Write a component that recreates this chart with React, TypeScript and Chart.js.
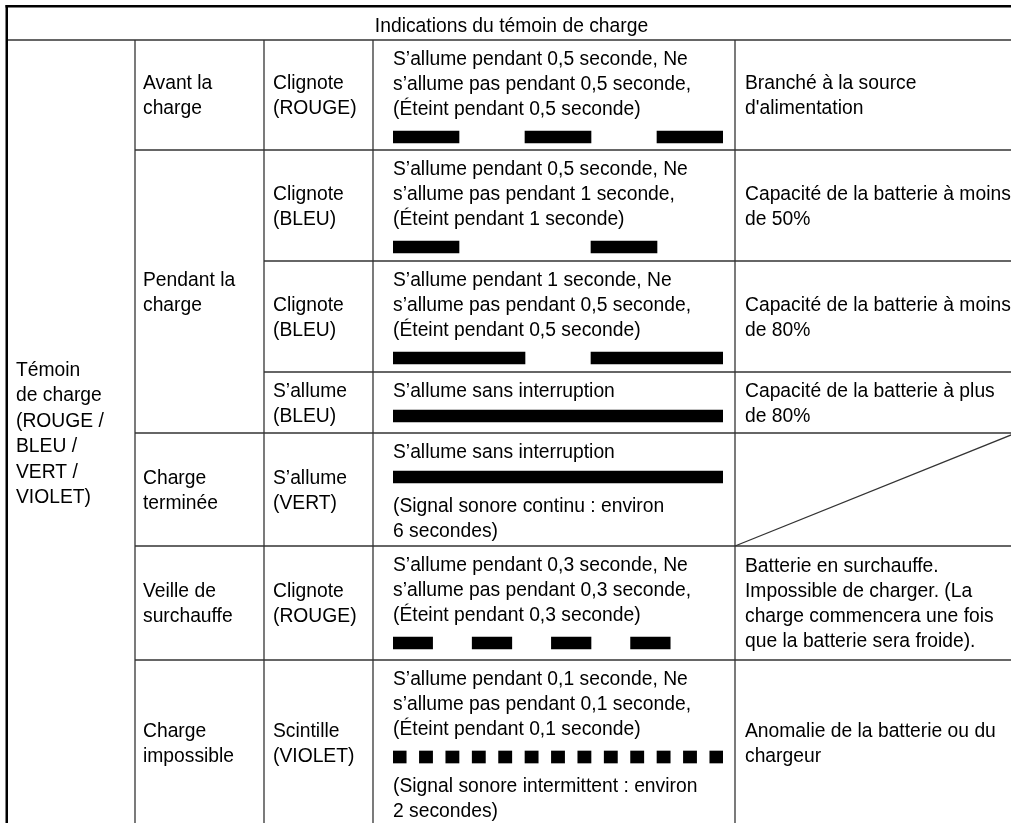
import React, { useEffect, useRef } from 'react';
import { Chart, registerables } from 'chart.js';

Chart.register(...registerables);

// ---------------- data ----------------
const HEADER_TITLE = 'Indications du témoin de charge';

const INDICATOR_LINES = ['Témoin', 'de charge', '(ROUGE /', 'BLEU /', 'VERT /', 'VIOLET)'];

const STATE_LABELS = [
  ['Avant la', 'charge'],
  ['Pendant la', 'charge'],
  ['Charge', 'terminée'],
  ['Veille de', 'surchauffe'],
  ['Charge', 'impossible'],
];
const STATE_ROW_SPANS = [1, 3, 1, 1, 1];

const LAMP_LABELS = [
  ['Clignote', '(ROUGE)'],
  ['Clignote', '(BLEU)'],
  ['Clignote', '(BLEU)'],
  ['S\u2019allume', '(BLEU)'],
  ['S\u2019allume', '(VERT)'],
  ['Clignote', '(ROUGE)'],
  ['Scintille', '(VIOLET)'],
];

const PATTERN_LINES = [
  ['S\u2019allume pendant 0,5 seconde, Ne', 's\u2019allume pas pendant 0,5 seconde,', '(Éteint pendant 0,5 seconde)'],
  ['S\u2019allume pendant 0,5 seconde, Ne', 's\u2019allume pas pendant 1 seconde,', '(Éteint pendant 1 seconde)'],
  ['S\u2019allume pendant 1 seconde, Ne', 's\u2019allume pas pendant 0,5 seconde,', '(Éteint pendant 0,5 seconde)'],
  ['S\u2019allume sans interruption'],
  ['S\u2019allume sans interruption'],
  ['S\u2019allume pendant 0,3 seconde, Ne', 's\u2019allume pas pendant 0,3 seconde,', '(Éteint pendant 0,3 seconde)'],
  ['S\u2019allume pendant 0,1 seconde, Ne', 's\u2019allume pas pendant 0,1 seconde,', '(Éteint pendant 0,1 seconde)'],
];

// lamp "on" intervals, in seconds
const ON_INTERVALS_ROW1 = [[0, 0.5], [1, 1.5], [2, 2.5]];
const ON_INTERVALS_ROW2 = [[0, 0.5], [1.5, 2]];
const ON_INTERVALS_ROW3 = [[0, 1], [1.5, 2.5]];
const ON_INTERVALS_ROW4 = [[0, 2.5]];
const ON_INTERVALS_ROW5 = [[0, 2.5]];
const ON_INTERVALS_ROW6 = [[0, 0.3], [0.6, 0.9], [1.2, 1.5], [1.8, 2.1]];
const ON_INTERVALS_ROW7 = [
  [0, 0.1], [0.2, 0.3], [0.4, 0.5], [0.6, 0.7], [0.8, 0.9], [1.0, 1.1], [1.2, 1.3],
  [1.4, 1.5], [1.6, 1.7], [1.8, 1.9], [2.0, 2.1], [2.2, 2.3], [2.4, 2.5],
];
const ON_INTERVALS = [
  ON_INTERVALS_ROW1, ON_INTERVALS_ROW2, ON_INTERVALS_ROW3, ON_INTERVALS_ROW4,
  ON_INTERVALS_ROW5, ON_INTERVALS_ROW6, ON_INTERVALS_ROW7,
];
const TIME_MIN = 0;
const TIME_MAX = 2.5;

const BEEP_LINES = [
  [], [], [], [],
  ['(Signal sonore continu : environ', '6 secondes)'],
  [],
  ['(Signal sonore intermittent : environ', '2 secondes)'],
];

const MEANING_LINES = [
  ['Branché à la source', "d'alimentation"],
  ['Capacité de la batterie à moins', 'de 50%'],
  ['Capacité de la batterie à moins', 'de 80%'],
  ['Capacité de la batterie à plus', 'de 80%'],
  [],
  ['Batterie en surchauffe.', 'Impossible de charger. (La', 'charge commencera une fois', 'que la batterie sera froide).'],
  ['Anomalie de la batterie ou du', 'chargeur'],
];

// ---------------- layout ----------------
const W = 1011;
const H = 823;
const COL = [7, 135, 264, 373, 735, 1016];
const ROW = [6, 40, 150, 261, 372, 433, 546, 660, 825];
const TEXT_X = [16, 143, 273, 393, 745];
const FONT_PX = 19.3;
const FONT = `${FONT_PX}px "Liberation Sans", Arial, Helvetica, sans-serif`;
const LH = 25;
const CAP = 13.8;
const BAR_THICKNESS = 12;
const PLOT_LEFT = 393;
const PLOT_RIGHT = 723;
const LINE_COLOR = '#333';

function patternLayout(i: number) {
  const top = ROW[i + 1];
  const first = top + 25;
  const n = PATTERN_LINES[i].length;
  const last = first + (n - 1) * LH;
  const barCenter = last + (n === 1 ? 19 : 22);
  const beepFirst = barCenter + 35;
  return { first, barCenter, beepFirst };
}

function centeredFirstBaseline(top: number, bottom: number, n: number, lh: number) {
  const c = (top + bottom) / 2;
  return c - ((n - 1) * lh) / 2 + CAP / 2;
}

const tablePlugin = {
  id: 'tableGrid',
  beforeDatasetsDraw(chart: any) {
    const ctx: CanvasRenderingContext2D = chart.ctx;
    ctx.save();
    ctx.fillStyle = '#fff';
    ctx.fillRect(0, 0, W, H);

    // grid lines
    ctx.strokeStyle = LINE_COLOR;
    ctx.lineWidth = 1.3;
    const line = (x1: number, y1: number, x2: number, y2: number) => {
      ctx.beginPath();
      ctx.moveTo(x1, y1);
      ctx.lineTo(x2, y2);
      ctx.stroke();
    };
    // header bottom
    line(COL[0], ROW[1], W, ROW[1]);
    // row boundaries
    const spanStarts: number[] = [];
    let acc = 0;
    STATE_ROW_SPANS.forEach((s) => { spanStarts.push(acc); acc += s; });
    for (let r = 1; r < ROW.length - 2; r++) {
      const y = ROW[r + 1];
      const startsState = spanStarts.includes(r);
      line(startsState ? COL[1] : COL[2], y, W, y);
    }
    // vertical lines
    for (let c = 1; c <= 4; c++) line(COL[c], ROW[1], COL[c], H);
    // diagonal in empty meaning cell
    MEANING_LINES.forEach((m, i) => {
      if (m.length === 0) line(COL[4], ROW[i + 2], COL[5], ROW[i + 1]);
    });

    // thick outer borders
    ctx.fillStyle = '#000';
    ctx.fillRect(COL[0] - 1.5, ROW[0] - 1, W, 2.5);
    ctx.fillRect(COL[0] - 1.5, ROW[0] - 1, 2.5, H);

    // texts
    ctx.font = FONT;
    ctx.fillStyle = '#000';
    ctx.textBaseline = 'alphabetic';

    ctx.textAlign = 'center';
    ctx.fillText(HEADER_TITLE, (COL[0] + COL[5]) / 2, ROW[0] + 26);
    ctx.textAlign = 'left';

    // indicator column
    {
      const lh = 25.5;
      const b = centeredFirstBaseline(ROW[1], ROW[ROW.length - 1], INDICATOR_LINES.length, lh);
      INDICATOR_LINES.forEach((t, k) => ctx.fillText(t, TEXT_X[0], b + k * lh));
    }
    // states
    STATE_LABELS.forEach((lines, s) => {
      const r0 = spanStarts[s];
      const r1 = r0 + STATE_ROW_SPANS[s];
      const b = centeredFirstBaseline(ROW[r0 + 1], ROW[r1 + 1], lines.length, LH);
      lines.forEach((t, k) => ctx.fillText(t, TEXT_X[1], b + k * LH));
    });
    // lamp labels
    LAMP_LABELS.forEach((lines, i) => {
      const b = centeredFirstBaseline(ROW[i + 1], ROW[i + 2], lines.length, LH);
      lines.forEach((t, k) => ctx.fillText(t, TEXT_X[2], b + k * LH));
    });
    // pattern descriptions
    PATTERN_LINES.forEach((lines, i) => {
      const { first, beepFirst } = patternLayout(i);
      lines.forEach((t, k) => ctx.fillText(t, TEXT_X[3], first + k * LH));
      BEEP_LINES[i].forEach((t, k) => ctx.fillText(t, TEXT_X[3], beepFirst + k * LH));
    });
    // meanings
    MEANING_LINES.forEach((lines, i) => {
      if (!lines.length) return;
      const b = centeredFirstBaseline(ROW[i + 1], ROW[i + 2], lines.length, LH);
      lines.forEach((t, k) => ctx.fillText(t, TEXT_X[4], b + k * LH));
    });

    ctx.restore();
  },
};

export default function App() {
  const canvasRef = useRef<HTMLCanvasElement | null>(null);

  useEffect(() => {
    const canvas = canvasRef.current;
    if (!canvas) return;
    const barData: { x: number[]; y: number }[] = [];
    ON_INTERVALS.forEach((intervals, i) => {
      const { barCenter } = patternLayout(i);
      intervals.forEach((iv) => barData.push({ x: iv, y: barCenter }));
    });

    const chart = new Chart(canvas, {
      type: 'bar',
      data: {
        datasets: [
          {
            data: barData as any,
            backgroundColor: '#000',
            borderWidth: 0,
            barThickness: BAR_THICKNESS,
          } as any,
        ],
      },
      options: {
        indexAxis: 'y',
        responsive: false,
        maintainAspectRatio: false,
        animation: false,
        devicePixelRatio: 1,
        layout: { padding: { left: PLOT_LEFT, right: W - PLOT_RIGHT, top: 0, bottom: 0 } },
        scales: {
          x: { type: 'linear', min: TIME_MIN, max: TIME_MAX, display: false, offset: false },
          y: { type: 'linear', min: 0, max: H, reverse: true, display: false, offset: false, grid: { offset: false } },
        },
        plugins: {
          legend: { display: false },
          tooltip: { enabled: false },
        },
      } as any,
      plugins: [tablePlugin],
    });
    return () => chart.destroy();
  }, []);

  return (
    <div style={{ position: 'fixed', left: 0, top: 0, width: W, height: H, background: '#fff' }}>
      <canvas ref={canvasRef} width={W} height={H} style={{ display: 'block', width: W, height: H }} />
    </div>
  );
}
